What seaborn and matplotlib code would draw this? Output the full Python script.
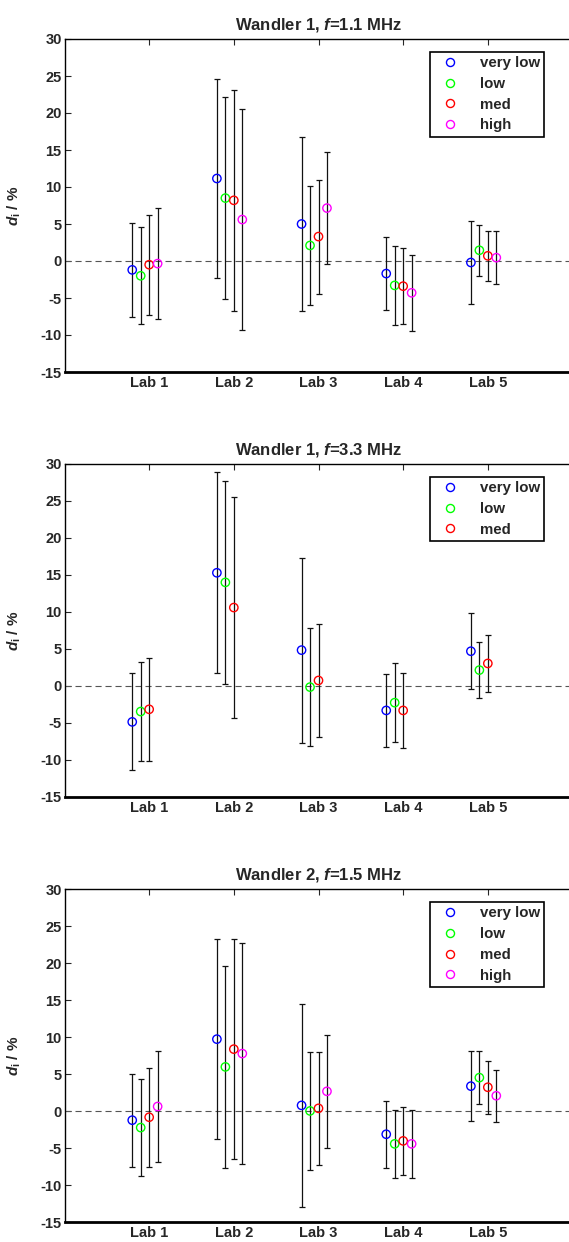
import matplotlib
matplotlib.use("Agg")
import matplotlib.pyplot as plt
import seaborn as sns
import numpy as np
import pandas as pd
from matplotlib.lines import Line2D

labs = ["Lab 1", "Lab 2", "Lab 3", "Lab 4", "Lab 5"]
levels = ["very low", "low", "med", "high"]
level_colors = ["#0000ff", "#00ff00", "#ff0000", "#ff00ff"]

# Wandler 1, f = 1.1 MHz
w1_11_val = {
    "very low": [-1.2, 11.15, 5.0, -1.7, -0.2],
    "low": [-2.0, 8.5, 2.1, -3.3, 1.45],
    "med": [-0.5, 8.2, 3.3, -3.4, 0.7],
    "high": [-0.35, 5.6, 7.15, -4.3, 0.45],
}
w1_11_err = {
    "very low": [6.3, 13.5, 11.75, 4.95, 5.65],
    "low": [6.55, 13.65, 8.0, 5.3, 3.45],
    "med": [6.75, 14.9, 7.7, 5.15, 3.4],
    "high": [7.55, 14.95, 7.6, 5.15, 3.6],
}

# Wandler 1, f = 3.3 MHz
w1_33_val = {
    "very low": [-4.85, 15.3, 4.85, -3.3, 4.7],
    "low": [-3.45, 14.0, -0.15, -2.25, 2.15],
    "med": [-3.15, 10.6, 0.75, -3.3, 3.05],
}
w1_33_err = {
    "very low": [6.55, 13.6, 12.5, 4.95, 5.15],
    "low": [6.7, 13.7, 7.95, 5.3, 3.8],
    "med": [6.95, 14.9, 7.65, 5.1, 3.9],
}

# Wandler 2, f = 1.5 MHz
w2_15_val = {
    "very low": [-1.2, 9.75, 0.8, -3.1, 3.4],
    "low": [-2.2, 6.0, 0.05, -4.4, 4.55],
    "med": [-0.8, 8.4, 0.4, -4.0, 3.25],
    "high": [0.65, 7.8, 2.7, -4.4, 2.1],
}
w2_15_err = {
    "very low": [6.3, 13.55, 13.7, 4.5, 4.7],
    "low": [6.55, 13.6, 7.95, 4.6, 3.6],
    "med": [6.7, 14.85, 7.65, 4.6, 3.6],
    "high": [7.55, 14.9, 7.6, 4.6, 3.5],
}

panels = [
    ("Wandler 1, $f$=1.1 MHz", w1_11_val, w1_11_err),
    ("Wandler 1, $f$=3.3 MHz", w1_33_val, w1_33_err),
    ("Wandler 2, $f$=1.5 MHz", w2_15_val, w2_15_err),
]

sns.set_style("white")
plt.rcParams["font.family"] = ["Liberation Sans", "DejaVu Sans"]
plt.rcParams["font.weight"] = "bold"
plt.rcParams["axes.unicode_minus"] = False
plt.rcParams["mathtext.fontset"] = "custom"
plt.rcParams["mathtext.it"] = "Liberation Sans:italic:bold"
plt.rcParams["mathtext.rm"] = "Liberation Sans:bold"
plt.rcParams["mathtext.bf"] = "Liberation Sans:bold"

W, H = 569, 1242
fig = plt.figure(figsize=(W / 100, H / 100), dpi=100)

ax_left, ax_width = 64.5, 508
ax_tops = [39, 464, 889.3]
ax_h = 333

for (title, vals, errs), top in zip(panels, ax_tops):
    ax = fig.add_axes([ax_left / W, 1 - (top + ax_h) / H, ax_width / W, ax_h / H])

    rows = []
    for j, lev in enumerate(vals):
        for i, lab in enumerate(labs):
            rows.append({"lab": lab, "level": lev,
                         "x": i + 1 + (j - 2) * 0.1,
                         "value": vals[lev][i], "err": errs[lev][i]})
    df = pd.DataFrame(rows)
    used = [l for l in levels if l in vals]
    pal = dict(zip(levels, level_colors))

    ax.axhline(0, color="#555555", ls=(0, (5.5, 3.5)), lw=0.8, zorder=1)
    ax.errorbar(df["x"], df["value"], yerr=df["err"], fmt="none",
                ecolor="#111111", elinewidth=0.9, capsize=2.3, capthick=0.9, zorder=2)
    sns.scatterplot(data=df, x="x", y="value", hue="level", hue_order=used,
                    palette=pal, marker="o", s=36, linewidth=1.0,
                    legend=False, ax=ax, zorder=3)
    pts = ax.collections[-1]
    pts.set_edgecolors(pts.get_facecolors())
    pts.set_facecolors("none")

    ax.set_xlim(0, 6)
    ax.set_ylim(-15, 30)
    ax.set_xticks(range(1, 6))
    ax.set_xticklabels(labs)
    ax.set_yticks(range(-15, 31, 5))
    ax.set_xlabel("")
    ax.set_ylabel(r"$d_\mathrm{i}$ / %", fontsize=11, fontweight="bold")
    ax.yaxis.set_label_coords((23 - ax_left) / ax_width, 0.5)
    ax.set_title(title, fontsize=12, fontweight="bold", pad=7)

    ax.tick_params(axis="both", direction="in", length=4, width=0.8,
                   labelsize=10.5, pad=3)
    ax.tick_params(axis="x", top=True)
    ax.tick_params(axis="y", left=True, pad=2)
    for lbl in ax.get_xticklabels() + ax.get_yticklabels():
        lbl.set_fontweight("bold")
    for side, sp in ax.spines.items():
        sp.set_color("black")
        sp.set_linewidth(1.0)
    ax.spines["bottom"].set_linewidth(2.0)

    handles = [Line2D([], [], marker="o", ls="none", mfc="none",
                      mec=pal[l], ms=5.8, mew=1.0) for l in used]
    leg = ax.legend(handles, used, loc="upper right",
                    bbox_to_anchor=((544.3 - ax_left) / ax_width, 1 - 12.7 / ax_h),
                    borderaxespad=0, fancybox=False, framealpha=1,
                    edgecolor="black", labelspacing=0.45,
                    borderpad=0.3, handletextpad=1.0,
                    prop={"weight": "bold", "size": 10.8})
    leg.get_frame().set_linewidth(1.2)

fig.savefig("out.png", dpi=100)
